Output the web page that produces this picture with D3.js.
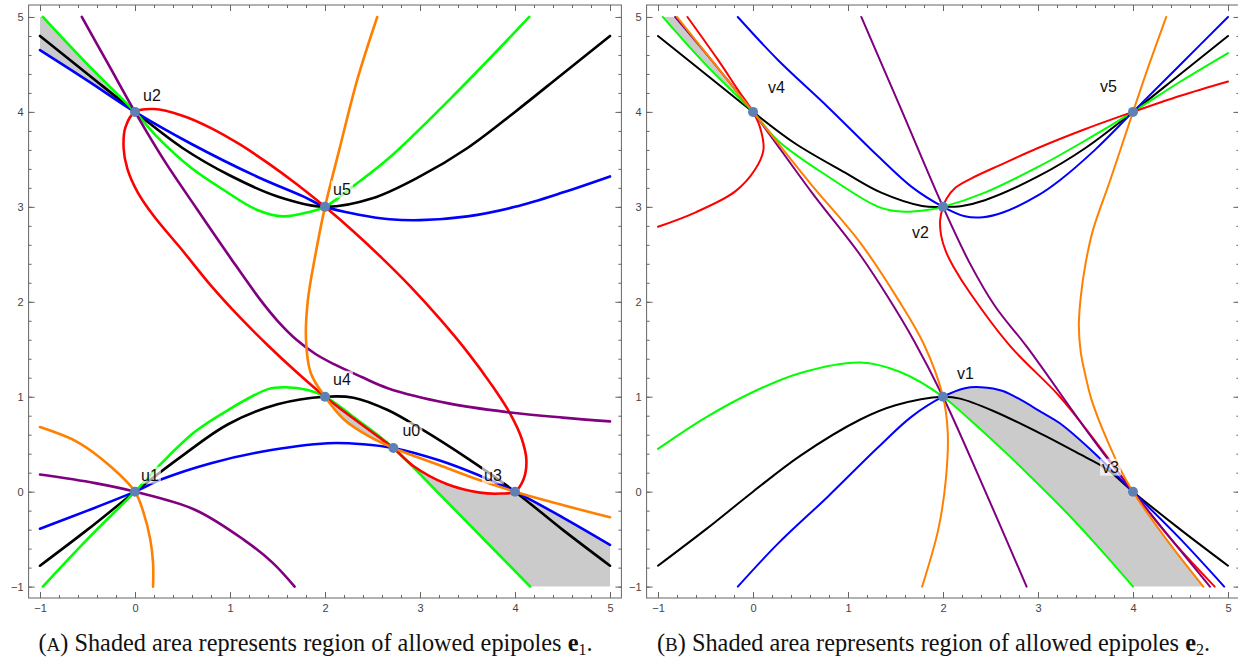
<!DOCTYPE html>
<html>
<head>
<meta charset="utf-8">
<script src="https://cdn.jsdelivr.net/npm/d3@7"></script>
<style>
    body { margin: 0; background: #fff; }
    svg { display: block; }
    .tick text { font-family: "Liberation Sans", Arial, sans-serif; font-size: 11px; fill: #444; }
    .tick line { stroke: #666; }
    .frame { fill: none; stroke: #666; stroke-width: 1; }
    .curve { fill: none; stroke-linejoin: round; stroke-linecap: round; }
    .shade { fill: #cbcbcb; stroke: none; }
    .pt { fill: #5e81b5; }
    .lbl { font-family: "Liberation Sans", Arial, sans-serif; font-size: 16px; fill: #111; }
    .caption { font-family: "Liberation Serif", "Times New Roman", serif; font-size: 24.3px; fill: #111; }
</style>
</head>
<body>
<svg id="chart" width="1238" height="660"></svg>
<script>
(function () {
    'use strict';

    // ---------- data ----------
    const tickValues = [-1, 0, 1, 2, 3, 4, 5];

    // panel A
    const pointsA = [
        { name: 'u0', x: 2.72, y: 0.46 },
        { name: 'u1', x: 0, y: 0 },
        { name: 'u2', x: 0, y: 4 },
        { name: 'u3', x: 4, y: 0 },
        { name: 'u4', x: 2, y: 1 },
        { name: 'u5', x: 2, y: 3 }
    ];
    const blackUpperA = [[-1, 4.8], [-0.5, 4.4], [0, 4], [0.5, 3.62], [1, 3.33], [1.5, 3.11], [2, 3], [2.5, 3.09], [3, 3.32], [3.5, 3.62], [4, 4], [4.5, 4.4], [5, 4.8]];
    const blackLowerA = [[-1, -0.78], [-0.5, -0.4], [0, 0], [0.5, 0.38], [0.98, 0.71], [1.5, 0.92], [2, 1], [2.3, 0.99], [2.66, 0.86], [3.03, 0.65], [3.5, 0.35], [4, 0], [4.5, -0.4], [5, -0.78]];
    const blueUpperA = [[-1, 4.65], [-0.5, 4.33], [0, 4], [0.58, 3.67], [1.28, 3.32], [1.77, 3.11], [2, 3], [2.34, 2.92], [2.68, 2.87], [3, 2.86], [3.5, 2.9], [4, 3], [4.5, 3.15], [5, 3.32]];
    const blueLowerA = [[-1, -0.39], [-0.5, -0.2], [0, 0], [0.28, 0.13], [0.8, 0.3], [1.33, 0.42], [2.03, 0.51], [2.4, 0.5], [2.72, 0.46], [3.2, 0.33], [3.6, 0.18], [4, 0], [4.5, -0.27], [5, -0.56]];
    const greenUpperA = [[-0.97, 5], [-0.5, 4.5], [0, 4], [0.23, 3.74], [0.58, 3.42], [0.93, 3.18], [1.28, 2.97], [1.56, 2.9], [1.81, 2.94], [2, 3], [2.3, 3.22], [2.68, 3.52], [3.4, 4.22], [4.15, 5]];
    const greenLowerA = [[-0.97, -1], [-0.5, -0.5], [0, 0], [0.28, 0.3], [0.63, 0.63], [0.98, 0.86], [1.4, 1.08], [1.58, 1.1], [1.82, 1.07], [2, 1], [2.35, 0.75], [2.72, 0.46], [3.2, -0.02], [3.7, -0.53], [4.16, -1]];
    const redA = [[0, 4], [0.2, 4.03], [0.5, 3.96], [0.8, 3.83], [1.1, 3.66], [1.4, 3.46], [1.7, 3.24], [2, 3], [2.3, 2.74], [2.6, 2.46], [2.9, 2.16], [3.2, 1.83], [3.5, 1.47], [3.75, 1.13], [3.95, 0.82], [4.07, 0.56], [4.12, 0.33], [4.09, 0.13], [4, 0], [3.85, -0.02], [3.63, -0.01], [3.28, 0.08], [2.93, 0.27], [2.72, 0.46], [2.6, 0.55], [2.3, 0.77], [2, 1], [1.7, 1.26], [1.4, 1.54], [1.1, 1.84], [0.8, 2.17], [0.5, 2.54], [0.2, 2.9], [0.03, 3.15], [-0.08, 3.4], [-0.12, 3.62], [-0.1, 3.84]];
    const purpleUpperA = [[-0.56, 5], [-0.28, 4.5], [0, 4], [0.3, 3.5], [0.65, 2.98], [1, 2.47], [1.32, 2.02], [1.5, 1.8], [1.7, 1.6], [1.9, 1.45], [2.1, 1.34], [2.38, 1.21], [2.66, 1.09], [3.3, 0.93], [3.9, 0.84], [4.5, 0.78], [5, 0.74]];
    const purpleLowerA = [[-1, 0.18], [-0.42, 0.09], [0, 0], [0.63, -0.19], [1.15, -0.51], [1.45, -0.75], [1.68, -1]];
    const orangeUpperA = [[2.55, 5], [2.34, 4.34], [2.15, 3.6], [2, 3], [1.9, 2.5], [1.82, 2.02], [1.8, 1.6], [1.85, 1.25], [2, 1], [2.2, 0.76], [2.45, 0.59], [2.72, 0.46], [3.2, 0.28], [3.6, 0.13], [4, 0], [4.5, -0.14], [5, -0.27]];
    const orangeLowerA = [[-1, 0.68], [-0.6, 0.52], [-0.25, 0.26], [0, 0], [0.09, -0.22], [0.16, -0.5], [0.19, -0.75], [0.19, -1]];

    // panel B
    const pointsB = [
        { name: 'v1', x: 2, y: 1 },
        { name: 'v2', x: 2, y: 3 },
        { name: 'v3', x: 4, y: 0 },
        { name: 'v4', x: 0, y: 4 },
        { name: 'v5', x: 4, y: 4 }
    ];
    const blackUpperB = [[-1, 4.8], [-0.5, 4.4], [0, 4], [0.44, 3.67], [0.97, 3.36], [1.35, 3.15], [1.78, 3.01], [2, 3], [2.2, 3.01], [2.44, 3.07], [3, 3.32], [3.5, 3.62], [4, 4], [4.5, 4.4], [5, 4.8]];
    const blackLowerB = [[-1, -0.78], [-0.5, -0.4], [0, 0], [0.5, 0.38], [1.13, 0.76], [1.5, 0.91], [2, 1], [2.18, 0.98], [2.53, 0.85], [3.05, 0.6], [3.41, 0.41], [3.72, 0.24], [4, 0], [4.5, -0.4], [5, -0.78]];
    const blueUpperB = [[-0.16, 5], [0.26, 4.55], [0.79, 4.05], [1.32, 3.53], [1.67, 3.21], [2, 3], [2.23, 2.9], [2.42, 2.89], [2.63, 2.94], [3, 3.12], [3.23, 3.28], [3.6, 3.6], [4, 4], [4.5, 4.5], [5, 5]];
    const blueLowerB = [[-0.16, -1], [0.26, -0.55], [0.79, -0.05], [1.32, 0.47], [1.67, 0.79], [2, 1], [2.23, 1.09], [2.4, 1.1], [2.63, 1.06], [3.05, 0.83], [3.23, 0.72], [3.6, 0.4], [4, 0], [4.5, -0.5], [4.96, -1]];
    const greenUpperB = [[-0.95, 5], [-0.5, 4.5], [0, 4], [0.26, 3.7], [0.79, 3.32], [1.32, 3], [1.56, 2.95], [1.85, 2.97], [2, 3], [2.44, 3.15], [3, 3.42], [3.5, 3.7], [4, 4], [4.5, 4.32], [5, 4.62]];
    const greenLowerB = [[-1, 0.45], [-0.5, 0.78], [0, 1.05], [0.5, 1.25], [1.13, 1.36], [1.55, 1.26], [2, 1], [2.28, 0.76], [2.63, 0.44], [2.92, 0.16], [3.3, -0.22], [3.65, -0.6], [4, -1]];
    const redLeftB = [[-0.69, 5], [-0.37, 4.55], [-0.15, 4.22], [0, 4], [0.07, 3.85], [0.11, 3.6], [0.02, 3.39], [-0.19, 3.16], [-0.61, 2.94], [-1, 2.79]];
    const redRightB = [[5, 4.32], [4.5, 4.17], [4, 4], [3.5, 3.82], [3, 3.62], [2.6, 3.44], [2.3, 3.3], [2.13, 3.2], [2.04, 3.09], [2, 3], [1.97, 2.86], [1.98, 2.7], [2.03, 2.53], [2.11, 2.37], [2.28, 2.1], [2.71, 1.53], [3.23, 1], [3.65, 0.47], [4, 0], [4.4, -0.5], [4.86, -1]];
    const purpleLeftB = [[-0.82, 5], [-0.4, 4.5], [0, 4], [0.62, 3.15], [1.13, 2.49], [1.42, 2.05], [1.7, 1.58], [2, 1], [2.39, 0.13], [2.88, -1]];
    const purpleRightB = [[1.14, 5], [1.55, 4.05], [2, 3], [2.28, 2.41], [2.55, 1.95], [2.88, 1.53], [3.58, 0.55], [4, 0], [4.81, -1]];
    const orangeLeftB = [[-0.8, 5], [-0.4, 4.5], [0, 4], [0.6, 3.25], [1.13, 2.62], [1.53, 2.02], [1.8, 1.55], [2, 1], [2.05, 0.62], [2.03, 0.13], [1.95, -0.4], [1.78, -1]];
    const orangeRightB = [[4.35, 5], [4.17, 4.5], [4, 4], [3.76, 3.28], [3.58, 2.76], [3.5, 2.4], [3.45, 2.05], [3.43, 1.75], [3.45, 1.47], [3.5, 1.22], [3.56, 0.98], [3.65, 0.73], [3.76, 0.47], [3.87, 0.23], [4, 0], [4.35, -0.5], [4.74, -1]];

    // ---------- layout ----------
    const colors = {
        black: '#000000', blue: '#0000ff', green: '#00ff00',
        red: '#ff0000', purple: '#800080', orange: '#ff8000'
    };
    const labelOffsets = {
        u0: [9, -12], u1: [6, -11], u2: [8, -11], u3: [-31, -11], u4: [8, -12], u5: [8, -12],
        v1: [14, -18], v2: [-31, 31], v3: [-31, -19], v4: [15, -19], v5: [-33, -20]
    };
    const xDomain = [-1.12, 5.12];
    const yDomain = [-1.12, 5.126];
    const plotW = 592.8;
    const top = 5, bottom = 598;

    const svg = d3.select('#chart');
    const defs = svg.append('defs');

    const panels = [
        {
            id: 'A', left: 28.6, lw: 2.6, sub: '1',
            points: pointsA,
            curves: [
                [blackUpperA, 'black'], [blackLowerA, 'black'],
                [blueUpperA, 'blue'], [blueLowerA, 'blue'],
                [greenUpperA, 'green'], [greenLowerA, 'green'],
                [redA, 'red', true],
                [purpleUpperA, 'purple'], [purpleLowerA, 'purple'],
                [orangeUpperA, 'orange'], [orangeLowerA, 'orange']
            ],
            shades: [
                [[[-1, 5]], part(greenUpperA, [-0.97, 5], [0, 4]), part(blueUpperA, [0, 4], [-1, 4.65])],
                [part(greenLowerA, [2, 1], [2.72, 0.46]), part(orangeUpperA, [2.72, 0.46], [2, 1])],
                [part(redA, [2.72, 0.46], [4, 0]), part(blueLowerA, [4, 0], [5, -0.56]),
                    [[5, -1], [4.16, -1]], part(greenLowerA, [4.16, -1], [2.72, 0.46])]
            ]
        },
        {
            id: 'B', left: 646.6, lw: 2.0, sub: '2',
            points: pointsB,
            curves: [
                [blackUpperB, 'black'], [blackLowerB, 'black'],
                [greenUpperB, 'green'], [greenLowerB, 'green'],
                [blueUpperB, 'blue'], [blueLowerB, 'blue'],
                [redLeftB, 'red'], [redRightB, 'red'],
                [purpleLeftB, 'purple'], [purpleRightB, 'purple'],
                [orangeLeftB, 'orange'], [orangeRightB, 'orange']
            ],
            shades: [
                [part(greenUpperB, [-0.95, 5], [0, 4]), part(orangeLeftB, [0, 4], [-0.8, 5])],
                [part(blueLowerB, [2, 1], [4, 0]), part(orangeRightB, [4, 0], [4.74, -1]),
                    part(greenLowerB, [4, -1], [2, 1])]
            ]
        }
    ];

    panels.forEach(drawPanel);

    function part(arr, from, to) {
        const i = arr.findIndex(p => p[0] === from[0] && p[1] === from[1]);
        const j = arr.findIndex(p => p[0] === to[0] && p[1] === to[1]);
        return i <= j ? arr.slice(i, j + 1) : arr.slice(j, i + 1).reverse();
    }

    function drawPanel(p) {
        const x = d3.scaleLinear().domain(xDomain).range([p.left, p.left + plotW]);
        const y = d3.scaleLinear().domain(yDomain).range([bottom, top]);
        const smooth = d3.line().x(d => x(d[0])).y(d => y(d[1])).curve(d3.curveCatmullRom.alpha(0.5));
        const closed = d3.line().x(d => x(d[0])).y(d => y(d[1])).curve(d3.curveCatmullRomClosed.alpha(0.5));

        defs.append('clipPath').attr('id', 'clip' + p.id)
            .append('rect')
                .attr('x', x(-1) - 2).attr('y', y(5) - 2)
                .attr('width', x(5) - x(-1) + 4).attr('height', y(-1) - y(5) + 4);

        const g = svg.append('g');
        const plot = g.append('g').attr('clip-path', `url(#clip${p.id})`);

        // shaded regions
        p.shades.forEach(parts => {
            const d = parts.map((pts, i) => {
                const s = pts.length > 2 ? smooth(pts)
                    : 'M' + pts.map(q => x(q[0]) + ',' + y(q[1])).join('L');
                return i === 0 ? s : 'L' + s.slice(1);
            }).join('') + 'Z';
            plot.append('path').attr('class', 'shade').attr('d', d);
        });

        // curves
        p.curves.forEach(c => {
            plot.append('path')
                .datum(c[0])
                .attr('class', 'curve')
                .attr('stroke', colors[c[1]])
                .attr('stroke-width', p.lw)
                .attr('d', c[2] ? closed : smooth);
        });

        // axes
        const fmt = d3.format('d');
        const minor = d3.range(-1, 5.0001, 0.2);
        const axes = [
            [d3.axisBottom(x), `translate(0,${bottom})`, true, 6],
            [d3.axisTop(x), `translate(0,${top})`, false, 6],
            [d3.axisLeft(y), `translate(${p.left},0)`, true, 5],
            [d3.axisRight(y), `translate(${p.left + plotW},0)`, false, 5]
        ];
        axes.forEach(a => {
            const ag = g.append('g').attr('transform', a[1]);
            ag.call(a[0].tickValues(minor).tickSize(-3).tickFormat(''));
            ag.select('.domain').remove();
            const bg = g.append('g').attr('transform', a[1]);
            bg.call(a[0].tickValues(tickValues).tickSize(-6).tickPadding(a[3])
                .tickFormat(a[2] ? fmt : ''));
            bg.select('.domain').remove();
        });

        g.append('rect').attr('class', 'frame')
            .attr('x', p.left).attr('y', top)
            .attr('width', plotW).attr('height', bottom - top);

        // points
        g.selectAll('circle.pt')
            .data(p.points)
            .join('circle')
                .attr('class', 'pt')
                .attr('cx', d => x(d.x))
                .attr('cy', d => y(d.y))
                .attr('r', 5);

        // labels with faint white box
        p.points.forEach(d => {
            const off = labelOffsets[d.name];
            const lg = g.append('g');
            const t = lg.append('text').attr('class', 'lbl')
                .attr('x', x(d.x) + off[0]).attr('y', y(d.y) + off[1])
                .text(d.name);
            const b = t.node().getBBox();
            lg.insert('rect', 'text')
                .attr('x', b.x - 2).attr('y', b.y)
                .attr('width', b.width + 4).attr('height', b.height)
                .attr('fill', '#fff').attr('fill-opacity', 0.65);
        });

        // caption
        const cap = svg.append('text').attr('class', 'caption')
            .attr('x', (x(-1) + x(5)) / 2 - 9.5).attr('y', 651)
            .attr('text-anchor', 'middle');
        cap.append('tspan').text('(');
        cap.append('tspan').attr('font-size', '19px').text(p.id);
        cap.append('tspan').text(') Shaded area represents region of allowed epipoles ');
        cap.append('tspan').attr('font-weight', 'bold').text('e');
        cap.append('tspan').attr('font-size', '16px').attr('dy', 4).text(p.sub);
        cap.append('tspan').attr('dy', -4).text('.');
    }
})();
</script>
</body>
</html>
